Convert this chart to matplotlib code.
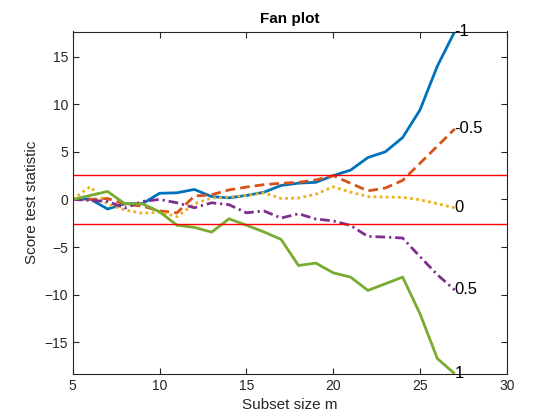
import matplotlib
matplotlib.use("Agg")
import matplotlib.pyplot as plt
import numpy as np

plt.rcParams['font.family'] = ['Liberation Sans', 'DejaVu Sans']

m = list(range(5, 28))
lambdas = ["-1", "-0.5", "0", "0.5", "1"]
s_m1 = [0, 0.05, -1.0, -0.45, -0.45, 0.65, 0.7, 1.05, 0.3, 0.17, 0.42, 0.75, 1.47, 1.71, 1.8, 2.5, 3.08, 4.4, 5.0, 6.5, 9.4, 14.0, 17.63]
s_m05 = [0, 0, 0.1, -0.5, -0.7, -1.2, -1.4, 0.35, 0.5, 1.0, 1.3, 1.55, 1.7, 1.8, 2.05, 2.5, 1.7, 0.9, 1.2, 2.0, 3.8, 5.6, 7.4]
s_0 = [0, 1.35, -0.5, -1.1, -1.45, -1.33, -1.8, -0.45, 0.15, 0.25, 0.42, 0.7, 0.1, 0.15, 0.55, 1.33, 0.77, 0.3, 0.25, 0.22, -0.03, -0.45, -0.87]
s_p05 = [0, -0.1, -0.2, -0.9, -0.2, 0.0, -0.35, -0.87, -0.35, -0.55, -1.4, -1.2, -1.95, -1.5, -2.05, -2.25, -2.73, -3.88, -3.95, -4.05, -6.0, -7.9, -9.5]
s_p1 = [0, 0.42, 0.84, -0.45, -0.45, -1.3, -2.7, -2.93, -3.43, -2.03, -2.7, -3.4, -4.2, -6.93, -6.68, -7.7, -8.15, -9.55, -8.85, -8.15, -12.0, -16.7, -18.3]
band = 2.58
xticks = [5, 10, 15, 20, 25, 30]
yticks = [-15, -10, -5, 0, 5, 10, 15]

series = [s_m1, s_m05, s_0, s_p05, s_p1]
colors = ['#0072BD', '#D95319', '#EDB120', '#7E2F8E', '#77AC30']
dashes = [None, (3.5, 1.8), (1.0, 1.2), (3.5, 1.4, 0.8, 1.4), None]

fig = plt.figure(figsize=(5.6, 4.2), dpi=100)
ax = fig.add_axes([0.13, 0.11, 0.775, 0.815])

for s, c, d, lab in zip(series, colors, dashes, lambdas):
    line, = ax.plot(m, s, color=c, linewidth=2.0, solid_capstyle='butt')
    if d is not None:
        line.set_dashes(d)
    ax.text(m[-1], s[-1], lab, fontsize=12, ha='left', va='center', color='black')

ax.axhline(band, color='#FF0000', linewidth=1.0)
ax.axhline(-band, color='#FF0000', linewidth=1.0)

allv = np.concatenate([np.array(s) for s in series])
ax.set_xlim(5, 30)
ax.set_ylim(allv.min(), allv.max())
ax.set_xticks(xticks)
ax.set_yticks(yticks)

axc = '#262626'
for sp in ax.spines.values():
    sp.set_color(axc)
    sp.set_linewidth(0.8)
ax.tick_params(direction='in', top=True, right=True, colors=axc, labelsize=10, length=4)
ax.set_title("Fan plot", fontsize=11, fontweight='bold', color='black')
ax.set_xlabel("Subset size m", fontsize=11, color=axc)
ax.set_ylabel("Score test statistic", fontsize=11, color=axc)

fig.savefig("out.png", dpi=100)
